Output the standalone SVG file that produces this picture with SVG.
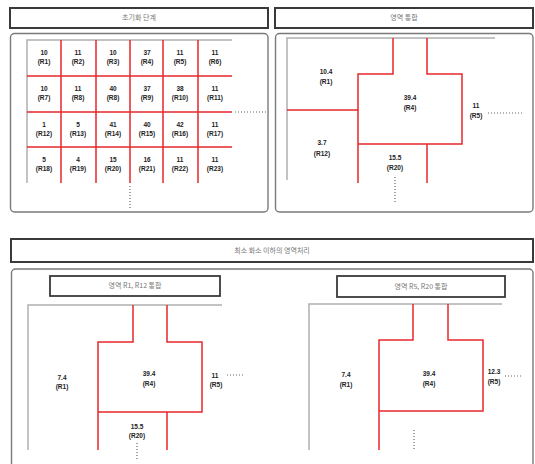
<svg xmlns="http://www.w3.org/2000/svg" width="535" height="464" viewBox="0 0 535 464">
<defs>
<style>
.tb{fill:#fff;stroke:#3a3a3a;stroke-width:2}
.sb{fill:#fff;stroke:#3a3a3a;stroke-width:1.8}
.pn{fill:#fff;stroke:#7a7a7a;stroke-width:1.4}
.tt{font-family:"Noto Sans CJK KR","Liberation Sans",sans-serif;font-size:7px;fill:#777;text-anchor:middle;dominant-baseline:middle}
.lb{font-family:"Liberation Sans",Arial,sans-serif;font-size:6.5px;font-weight:bold;fill:#222;text-anchor:middle}
.g{stroke:#b0b0b0;stroke-width:1.5;fill:none}
.r{stroke:#e8282c;stroke-width:1.5;fill:none}
.d{stroke:#666;stroke-width:1.2;stroke-dasharray:1 2;fill:none}
</style>
</defs>
<rect width="535" height="464" fill="#fff"/>

<g id="title-init"><rect class="tb" x="10" y="8" width="258" height="20"/><text class="tt" x="139" y="18.5">초기화 단계</text></g>
<g id="title-merge"><rect class="tb" x="275" y="8" width="258" height="20"/><text class="tt" x="404" y="18.5">영역 통합</text></g>
<g id="title-min"><rect class="tb" x="11" y="239" width="522" height="23"/><text class="tt" x="272" y="251">최소 화소 이하의 영역처리</text></g>

<g id="panel-init">
<rect class="pn" x="10.5" y="33.5" width="257.5" height="178.5" rx="4"/>
<path class="g" d="M27 183V40H232"/>
<path class="r" d="M61 40V183M96 40V183M130 40V183M163 40V183M198 40V183M27 76H232M27 112H232M27 147H232"/>
<path class="d" d="M235 112H268M130 186V208"/>
<g class="lb">
<text x="44" y="55">10</text><text x="44" y="64">(R1)</text>
<text x="78" y="55">11</text><text x="78" y="64">(R2)</text>
<text x="113" y="55">10</text><text x="113" y="64">(R3)</text>
<text x="147" y="55">37</text><text x="147" y="64">(R4)</text>
<text x="180" y="55">11</text><text x="180" y="64">(R5)</text>
<text x="215" y="55">11</text><text x="215" y="64">(R6)</text>
<text x="44" y="91">10</text><text x="44" y="100">(R7)</text>
<text x="78" y="91">11</text><text x="78" y="100">(R8)</text>
<text x="113" y="91">40</text><text x="113" y="100">(R8)</text>
<text x="147" y="91">37</text><text x="147" y="100">(R9)</text>
<text x="180" y="91">38</text><text x="180" y="100">(R10)</text>
<text x="215" y="91">11</text><text x="215" y="100">(R11)</text>
<text x="44" y="127">1</text><text x="44" y="136">(R12)</text>
<text x="78" y="127">5</text><text x="78" y="136">(R13)</text>
<text x="113" y="127">41</text><text x="113" y="136">(R14)</text>
<text x="147" y="127">40</text><text x="147" y="136">(R15)</text>
<text x="180" y="127">42</text><text x="180" y="136">(R16)</text>
<text x="215" y="127">11</text><text x="215" y="136">(R17)</text>
<text x="44" y="162">5</text><text x="44" y="171">(R18)</text>
<text x="78" y="162">4</text><text x="78" y="171">(R19)</text>
<text x="113" y="162">15</text><text x="113" y="171">(R20)</text>
<text x="147" y="162">16</text><text x="147" y="171">(R21)</text>
<text x="180" y="162">11</text><text x="180" y="171">(R22)</text>
<text x="215" y="162">11</text><text x="215" y="171">(R23)</text>
</g>
</g>

<g id="panel-merge">
<rect class="pn" x="275.5" y="33.5" width="257.5" height="178.5" rx="4"/>
<path class="g" d="M287 180V38H495"/>
<path class="r" d="M393 38V74H358V183M427 38V74H462V144H358M427 144V183M287 110H358"/>
<path class="d" d="M488 113H522M395 177V204"/>
<g class="lb">
<text x="326" y="74">10.4</text><text x="326" y="84">(R1)</text>
<text x="410" y="100">39.4</text><text x="410" y="110">(R4)</text>
<text x="476" y="108">11</text><text x="476" y="118">(R5)</text>
<text x="322" y="145">3.7</text><text x="322" y="156">(R12)</text>
<text x="395" y="160">15.5</text><text x="395" y="170">(R20)</text>
</g>
</g>

<g id="panel-min">
<path class="pn" d="M11.5 466V273a4 4 0 0 1 4-4H529a4 4 0 0 1 4 4V466"/>
</g>

<g id="case-r1-r12">
<rect class="sb" x="50" y="276" width="170" height="20"/>
<text class="tt" x="135" y="286.5">영역 R1, R12 통합</text>
<path class="g" d="M28 450V305H222"/>
<path class="r" d="M133 305V342H98V450M167 305V342H202V412H98M167 412V450"/>
<path class="d" d="M227 375H243M137 443V459"/>
<g class="lb">
<text x="62" y="380">7.4</text><text x="62" y="389">(R1)</text>
<text x="149" y="376">39.4</text><text x="149" y="386">(R4)</text>
<text x="215" y="378">11</text><text x="216" y="387">(R5)</text>
<text x="137" y="429">15.5</text><text x="137" y="438">(R20)</text>
</g>
</g>

<g id="case-r5-r20">
<rect class="sb" x="337" y="276" width="168" height="21"/>
<text class="tt" x="421" y="287">영역 R5, R20 통합</text>
<path class="g" d="M309 450V304H502"/>
<path class="r" d="M413 304V340H379V450M448 304V340H483V411H379"/>
<path class="d" d="M505 376H522M414 430V449"/>
<g class="lb">
<text x="346" y="377">7.4</text><text x="346" y="387">(R1)</text>
<text x="429" y="376">39.4</text><text x="429" y="386">(R4)</text>
<text x="494" y="374">12.3</text><text x="494" y="384">(R5)</text>
</g>
</g>
</svg>
